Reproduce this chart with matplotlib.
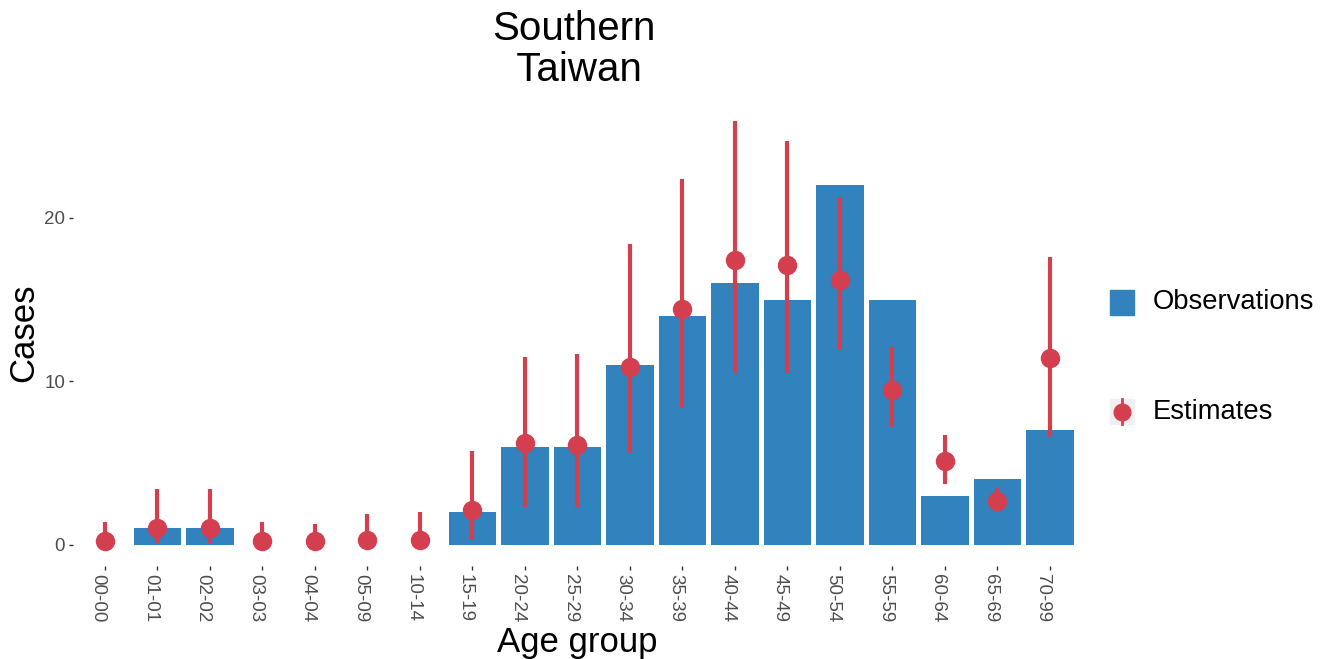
import numpy as np
import matplotlib
matplotlib.use('Agg')
import matplotlib.pyplot as plt
import matplotlib.transforms as mtransforms
from matplotlib.patches import Rectangle

plt.rcParams['font.family'] = ['Liberation Sans', 'DejaVu Sans']

## data
age_groups = ['00-00', '01-01', '02-02', '03-03', '04-04', '05-09', '10-14',
              '15-19', '20-24', '25-29', '30-34', '35-39', '40-44', '45-49',
              '50-54', '55-59', '60-64', '65-69', '70-99']
observed = [0, 1, 1, 0, 0, 0, 0, 2, 6, 6, 11, 14, 16, 15, 22, 15, 3, 4, 7]
est_mid = [0.25, 1.0, 1.0, 0.25, 0.25, 0.3, 0.3, 2.1, 6.2, 6.1, 10.9, 14.4,
           17.4, 17.1, 16.2, 9.5, 5.1, 2.7, 11.4]
est_low = [0.0, 0.1, 0.1, 0.0, 0.0, 0.0, 0.0, 0.3, 2.3, 2.3, 5.6, 8.4,
           10.5, 10.5, 11.9, 7.2, 3.7, 2.0, 6.6]
est_high = [1.4, 3.4, 3.4, 1.4, 1.3, 1.9, 2.0, 5.75, 11.5, 11.7, 18.4, 22.4,
            25.9, 24.7, 21.3, 12.1, 6.7, 3.5, 17.6]

blue = '#3182bd'
red = '#d43f50'
tick_gray = '#4d4d4d'

fig = plt.figure(figsize=(13.28, 6.59), dpi=100)
ax = fig.add_axes([0.0553, 0.141, 0.759, 0.707])

x = np.arange(len(age_groups))
ax.bar(x, observed, width=0.9, color=blue, zorder=1)

mid = np.array(est_mid)
yerr = np.vstack([mid - np.array(est_low), np.array(est_high) - mid])
ax.errorbar(x, mid, yerr=yerr, fmt='o', color=red, ms=13, elinewidth=3,
            capsize=0, zorder=3)

ax.set_xlim(-0.6, len(age_groups) - 0.4)
ax.set_ylim(-1.3, 27.2)
ax.set_xticks(x)
ax.set_xticklabels(age_groups, rotation=270, fontsize=13.5, color=tick_gray)
ax.set_yticks([0, 10, 20])
ax.set_yticklabels(['0', '10', '20'], fontsize=13.5, color=tick_gray)
ax.tick_params(axis='both', length=3, width=1, color='#333333', pad=3)
for s in ax.spines.values():
    s.set_visible(False)

# nudge the rotated labels a little left of their ticks, like ggplot does
shift = mtransforms.ScaledTranslation(-7 / 100, 0, fig.dpi_scale_trans)
for lab in ax.get_xticklabels():
    lab.set_transform(lab.get_transform() + shift)

ax.set_xlabel('Age group', fontsize=25, labelpad=2)
ax.set_ylabel('Cases', fontsize=25)
ax.yaxis.set_label_coords(-0.033, 0.5)
fig.text(0.432, 0.985, 'Southern\n Taiwan', fontsize=29, ha='center', va='top',
         multialignment='center', linespacing=1.1)

## legend drawn by hand in pixel coordinates
lax = fig.add_axes([0, 0, 1, 1], zorder=-1)
lax.set_xlim(0, 1328)
lax.set_ylim(659, 0)
lax.axis('off')
lax.add_patch(Rectangle((1110, 290), 24, 25, color=blue))
lax.add_patch(Rectangle((1110, 399), 24, 25, color='#f0f0f0'))
lax.plot([1122, 1122], [399, 424], color=red, lw=2)
lax.plot([1122], [411.5], 'o', color=red, ms=12)
lax.text(1153, 302, 'Observations', fontsize=19.7, va='center')
lax.text(1153, 412, 'Estimates', fontsize=19.7, va='center')

fig.savefig('out.png', dpi=100)
